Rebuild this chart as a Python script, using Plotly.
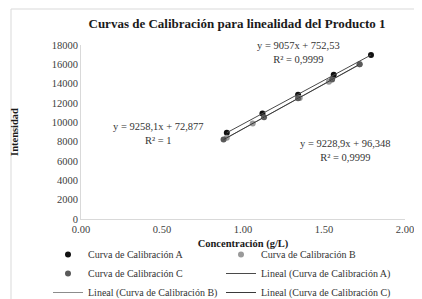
import numpy as np
import plotly.graph_objects as go

# Data
a_x = [0.90, 1.12, 1.34, 1.56, 1.79]
a_y = [8930, 10920, 12860, 14920, 16960]
b_x = [0.90, 1.06, 1.35, 1.53, 1.72]
b_y = [8400, 9880, 12530, 14200, 16000]
c_x = [0.88, 1.13, 1.34, 1.55, 1.72]
c_y = [8220, 10530, 12480, 14420, 16010]

names = ["Curva de Calibración A", "Curva de Calibración B", "Curva de Calibración C"]
eq_texts = ["y = 9057x + 752,53<br>R² = 0,9999",
            "y = 9258,1x + 72,877<br>R² = 1",
            "y = 9228,9x + 96,348<br>R² = 0,9999"]

FONT = "Liberation Serif, Times New Roman, serif"
W, H = 422, 299
L, R, T, B = 73, 25, 37, 88
pw, ph = W - L - R, H - T - B

marker_cols = ["#111111", "#9a9a9a", "#5a5a5a"]
line_cols = ["#4a4a4a", "#8c8c8c", "#3a3a3a"]

fig = go.Figure()
series = [(a_x, a_y), (b_x, b_y), (c_x, c_y)]
for (xs, ys), n, mc in zip(series, names, marker_cols):
    fig.add_trace(go.Scatter(x=xs, y=ys, mode="markers", name=n,
                             marker=dict(color=mc, size=6)))
for (xs, ys), n, lc in zip(series, names, line_cols):
    k, b0 = np.polyfit(xs, ys, 1)
    lx = [min(xs), max(xs)]
    fig.add_trace(go.Scatter(x=lx, y=[k * v + b0 for v in lx], mode="lines",
                             name=f"Lineal ({n})",
                             line=dict(color=lc, width=1)))

def px(x):
    return (x - L) / pw

def py(y):
    return (T + ph - y) / ph

ann_pos = [(290, 44), (150, 125), (337, 142)]
for t, (ax_, ay_) in zip(eq_texts, ann_pos):
    fig.add_annotation(text=t, x=px(ax_), y=py(ay_), xref="paper", yref="paper",
                       showarrow=False, xanchor="center", yanchor="middle",
                       font=dict(family=FONT, size=10.5, color="#333333"))

fig.add_shape(type="rect", xref="paper", yref="paper",
              x0=px(3), x1=px(419), y0=py(297), y1=py(1),
              line=dict(color="#d9d9d9", width=1), layer="below")

fig.update_layout(
    width=W, height=H,
    margin=dict(l=L, r=R, t=T, b=B, autoexpand=False),
    paper_bgcolor="white", plot_bgcolor="white",
    font=dict(family=FONT, size=10.5, color="#404040"),
    title=dict(text="<b>Curvas de Calibración para linealidad del Producto 1</b>",
               x=229 / W, xref="container", y=1 - 15 / H, yref="container",
               xanchor="center", yanchor="middle",
               font=dict(family=FONT, size=13, color="#1a1a1a")),
    xaxis=dict(range=[0, 2], dtick=0.5, tickformat=".2f", showgrid=False,
               zeroline=False, showline=True, linecolor="#d9d9d9", ticks="",
               title=dict(text="<b>Concentración (g/L)</b>", standoff=6,
                          font=dict(family=FONT, size=10.5, color="#1a1a1a"))),
    yaxis=dict(range=[0, 18000], dtick=2000, tickformat="d", showgrid=False,
               zeroline=False, showline=True, linecolor="#d9d9d9", ticks="",
               title=dict(text="<b>Intensidad</b>", standoff=30,
                          font=dict(family=FONT, size=10.5, color="#1a1a1a"))),
    legend=dict(orientation="h", xref="paper", yref="paper",
                x=px(40), y=py(232), xanchor="left", yanchor="top",
                entrywidth=128, tracegroupgap=0, itemwidth=30,
                font=dict(family=FONT, size=10, color="#333333")),
    showlegend=True,
)

fig.write_html("out.html")
